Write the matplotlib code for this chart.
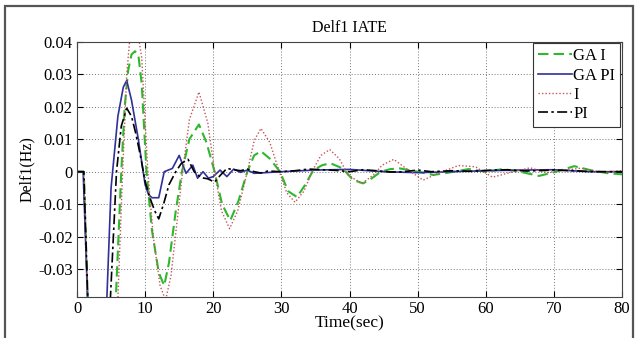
import matplotlib
matplotlib.use('Agg')
import matplotlib.pyplot as plt
from matplotlib.patches import Rectangle
from matplotlib.ticker import FixedLocator, FuncFormatter

# GA I (green dashed)
t_ga_i = [0, 1.0, 2, 3, 4, 5, 5.7, 6.5, 7.0, 7.5, 8.0, 8.5, 9.0, 9.5, 10.2, 11, 12, 12.8,
          13.5, 14.5, 15.4, 16.5, 17.9, 19, 20.2, 21.3, 22.5, 23.7, 25, 26, 27, 28.3, 29.8,
          31, 32.3, 33.5, 34.7, 36, 37.2, 39, 40.5, 42, 43.3, 44.6, 46, 47.4, 50, 52.3,
          54.5, 57.5, 60, 62.5, 65, 67.8, 70, 73, 75.5, 78, 80]
ga_i = [0, 0, -0.07, -0.1, -0.09, -0.06, -0.039, 0.0, 0.02, 0.031, 0.036, 0.037, 0.036,
        0.027, 0.0, -0.018, -0.031, -0.035, -0.028, -0.012, 0.0, 0.01, 0.0145, 0.009, 0.0,
        -0.01, -0.015, -0.009, 0.0, 0.005, 0.0063, 0.004, 0.0, -0.006, -0.0078, -0.004,
        0.0005, 0.002, 0.0026, 0.001, -0.0025, -0.0036, -0.002, 0.0, 0.0008, 0.001, 0.0,
        -0.001, -0.0003, 0.0008, 0.0, 0.0008, 0.0, -0.0013, -0.0002, 0.0017, 0.0004,
        -0.0005, -0.0008]

# GA PI (blue solid)
t_ga_pi = [0, 0.9, 2.0, 3.0, 4.0, 5.0, 6.0, 6.8, 7.3, 8.0, 9.0, 10.0, 10.5, 11, 12, 12.8,
           14, 15, 16, 17, 17.7, 18.5, 19.3, 20, 21, 22, 23, 24, 25, 26, 30, 35, 40, 45,
           50, 55, 60, 65, 70, 75, 80]
ga_pi = [0, 0, -0.065, -0.09, -0.06, -0.005, 0.017, 0.026, 0.028, 0.022, 0.01, -0.004,
         -0.007, -0.008, -0.008, 0.0, 0.001, 0.005, -0.0005, 0.002, -0.002, 0.0, -0.002,
         -0.0015, 0.0005, -0.0015, 0.0008, -0.0002, 0.0005, -0.0005, 0.0, 0.0005, 0.0007,
         0.0, -0.0003, 0.0, 0.0003, 0.0005, 0.0006, 0.0, 0.0]

# I (red dotted)
t_i = [0, 1.0, 2, 3, 4, 5, 6, 6.7, 7.3, 7.8, 8.3, 8.9, 9.5, 10.4, 11.2, 12.2, 13.0, 13.8,
       14.7, 15.5, 16.5, 17.9, 19.2, 20.2, 21.2, 22.4, 23.6, 25, 26, 27, 28.3, 29.7, 30.8,
       32, 33.3, 34.5, 35.8, 37.1, 38.5, 39.8, 41.8, 43.5, 44.8, 46.5, 48.3, 50.8, 53, 56,
       58.5, 61, 63.5, 66.5, 69, 71, 74, 77, 80]
i_ctrl = [0, 0, -0.075, -0.11, -0.1, -0.07, -0.039, 0.0, 0.03, 0.042, 0.045, 0.043, 0.035,
          0.0, -0.02, -0.035, -0.0395, -0.032, -0.015, 0.0, 0.016, 0.0245, 0.015, 0.0,
          -0.012, -0.0175, -0.012, 0.0, 0.0095, 0.0133, 0.009, 0.0, -0.0065, -0.0094,
          -0.006, 0.0, 0.005, 0.0068, 0.004, -0.001, -0.0037, -0.001, 0.002, 0.0038, 0.001,
          -0.0026, -0.0005, 0.0019, 0.0015, -0.0017, -0.0003, 0.0012, -0.0003, 0.0003,
          0.0011, -0.0002, 0.0003]

# PI (black dash-dot)
t_pi = [0, 1.0, 1.6, 2.5, 3.5, 4.2, 4.9, 5.8, 6.5, 7.3, 8.0, 8.6, 9.3, 10.0, 10.7, 11.4,
        12.0, 12.7, 13.5, 14.5, 15.3, 16.3, 17.2, 18.2, 19.2, 20.2, 21.0, 22, 23, 24, 25,
        26, 27, 28, 30, 32, 34, 36, 38, 40, 42, 44, 46, 48, 50, 52, 55, 58, 60, 63, 66,
        70, 73, 76, 80]
pi_ctrl = [0, 0, -0.04, -0.07, -0.08, -0.06, -0.039, 0.0, 0.014, 0.0195, 0.017, 0.012,
           0.005, -0.003, -0.008, -0.012, -0.0145, -0.01, -0.004, 0.0, 0.0025, 0.0038, 0.0,
           -0.0018, -0.0022, -0.0032, -0.0012, 0.001, 0.0006, 0.0003, 0.0008, 0.0, -0.0004,
           0.0002, 0.0, 0.0003, 0.0008, 0.0006, 0.0004, 0.0, 0.0006, 0.0003, -0.0001, 0.0,
           0.0005, 0.0, 0.0003, 0.0001, 0.0004, 0.0006, 0.0002, 0.0005, 0.0003, 0.0, 0.0]

x_ticks = [0, 10, 20, 30, 40, 50, 60, 70, 80]
y_ticks = [-0.03, -0.02, -0.01, 0, 0.01, 0.02, 0.03, 0.04]

plt.rcParams['font.family'] = ['Liberation Serif', 'DejaVu Serif']
plt.rcParams['axes.unicode_minus'] = False

fig = plt.figure(figsize=(6.35, 3.38), dpi=100)
ax = fig.add_axes([77 / 635, 41 / 338, 545 / 635, 255.5 / 338])

ax.plot(t_ga_i, ga_i, color='#2eb82e', ls=(0, (5, 2.5)), lw=1.5, label='GA I')
ax.plot(t_ga_pi, ga_pi, color='#30309a', ls='-', lw=1.2, label='GA PI')
ax.plot(t_i, i_ctrl, color='#c55555', ls=(0, (1, 1.5)), lw=1.0, label='I')
ax.plot(t_pi, pi_ctrl, color='black', ls=(0, (6, 2, 1.5, 2)), lw=1.2, label='PI')

ax.set_xlim(0, 80)
ax.set_ylim(-0.0385, 0.04)
ax.xaxis.set_major_locator(FixedLocator(x_ticks))
ax.yaxis.set_major_locator(FixedLocator(y_ticks))
ax.yaxis.set_major_formatter(FuncFormatter(lambda v, p: '0' if abs(v) < 1e-9 else '%.2f' % v))
ax.tick_params(direction='in', top=True, right=True, labelsize=12, length=4, width=0.8, pad=3)
ax.grid(True, ls=(0, (1, 2)), color='#777777', lw=0.7)
for s in ax.spines.values():
    s.set_color('#444444')
    s.set_linewidth(0.8)

ax.set_title('Delf1 IATE', fontsize=11.5, pad=7)
ax.set_xlabel('Time(sec)', fontsize=12.5, labelpad=-1)
ax.set_ylabel('Delf1(Hz)', fontsize=11.5, labelpad=2)

leg = ax.legend(loc='upper right', fontsize=12, handlelength=2.0, handletextpad=0.1,
                borderaxespad=0.1, borderpad=0.3, labelspacing=0.2, fancybox=False,
                framealpha=1)
leg.get_frame().set_edgecolor('#333333')
leg.get_frame().set_linewidth(0.8)

fig.add_artist(Rectangle((5 / 635, -0.05), 628 / 635, 1.05 - 6 / 338,
                         transform=fig.transFigure, fill=False, ec='#555555', lw=1.6))

fig.savefig('out.png', dpi=100)
